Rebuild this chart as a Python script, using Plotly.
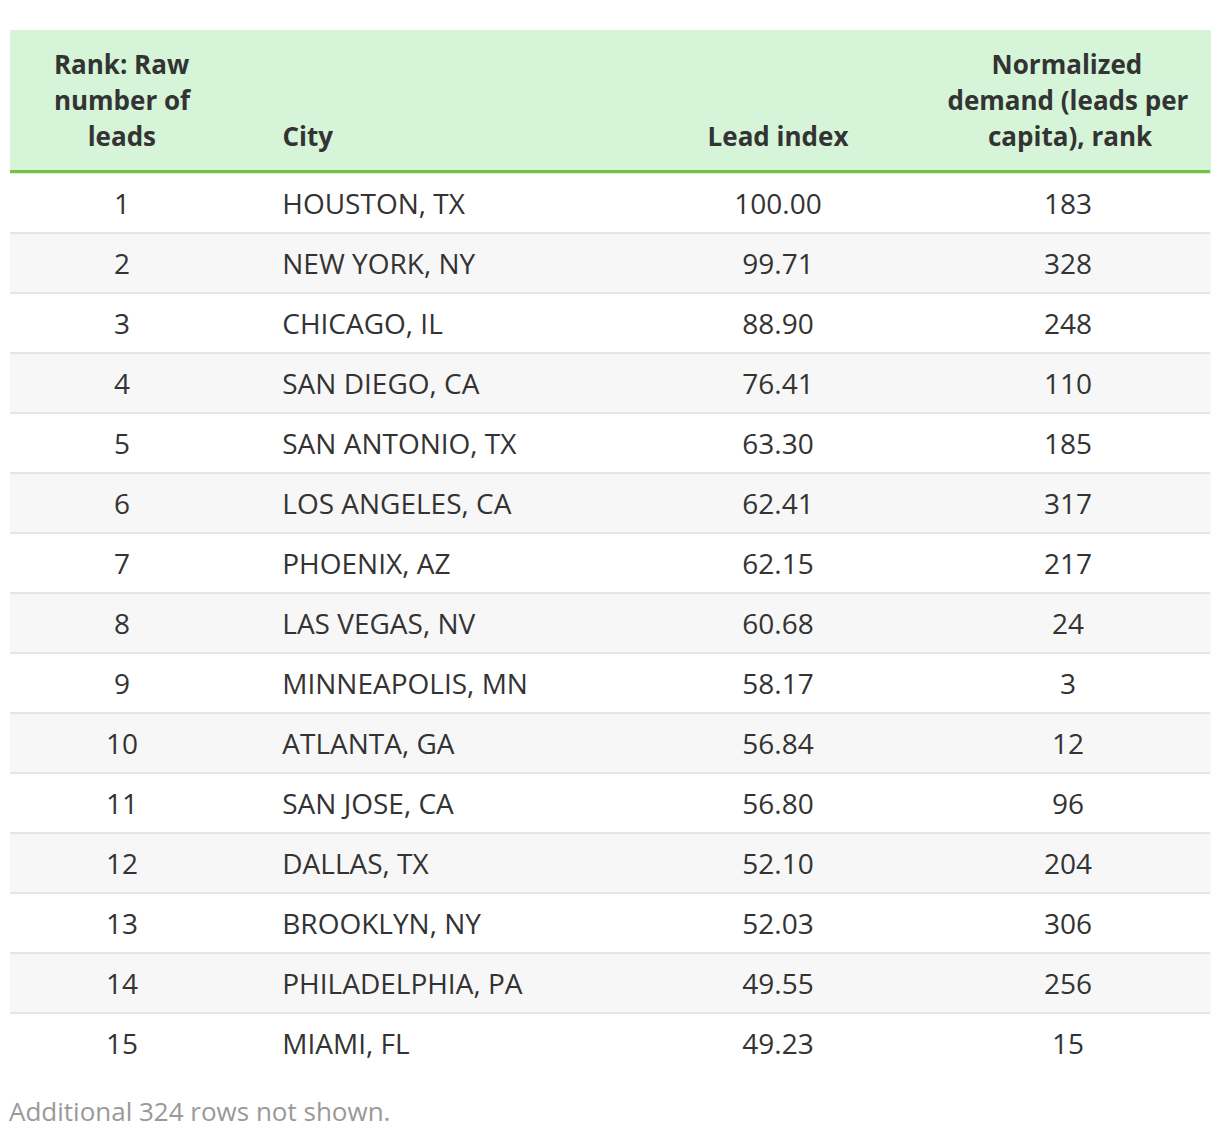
import plotly.graph_objects as go

# --- data ---
ranks = [1, 2, 3, 4, 5, 6, 7, 8, 9, 10, 11, 12, 13, 14, 15]
cities = ["HOUSTON, TX", "NEW YORK, NY", "CHICAGO, IL", "SAN DIEGO, CA", "SAN ANTONIO, TX",
          "LOS ANGELES, CA", "PHOENIX, AZ", "LAS VEGAS, NV", "MINNEAPOLIS, MN", "ATLANTA, GA",
          "SAN JOSE, CA", "DALLAS, TX", "BROOKLYN, NY", "PHILADELPHIA, PA", "MIAMI, FL"]
lead_index = [100.00, 99.71, 88.90, 76.41, 63.30, 62.41, 62.15, 60.68, 58.17, 56.84,
              56.80, 52.10, 52.03, 49.55, 49.23]
per_capita_rank = [183, 328, 248, 110, 185, 317, 217, 24, 3, 12, 96, 204, 306, 256, 15]
footnote = "Additional 324 rows not shown."

# --- style / geometry ---
W, H = 1212, 1130
TOP, LEFT, RIGHT = 22, 2, 10
HEAD_H, ROW_H = 143, 60
TABLE_H = HEAD_H + ROW_H * len(ranks)
BOTTOM = H - TOP - TABLE_H
TEXT = "#333333"
FONT = "Open Sans, sans-serif"
NB = "\u00a0"

row_fill = ["#ffffff" if i % 2 == 0 else "#f7f7f7" for i in range(len(ranks))]


def sp(size, s):
    return f'<span style="font-size:{size}px">{s}</span>'


# header text: bottom-aligned lines, centred by hand with no-break spaces
# (a taller no-break space on the first line pushes the block down)
big = sp(34, NB)
h1 = "<br>".join([big + sp(26, "Rank: Raw") + big, big + sp(26, "number of") + big,
                  big + sp(26, NB * 5 + "leads")])
h2 = "<br>".join([big, sp(26, NB), sp(26, NB * 6 + "City")])
h3 = "<br>".join([big, sp(26, NB), sp(26, "Lead index")])
h4 = "<br>".join([sp(34, NB * 5) + sp(26, "Normalized"), sp(26, "demand (leads per"),
                  sp(26, NB * 6 + "capita), rank")])

# cell text: taller spacer centres the text vertically, trailing <br> stops auto-wrapping
pad = sp(31, NB)
c1 = [pad + sp(28, r) + pad + "<br>" for r in ranks]
c2 = [sp(31, NB * 5) + sp(28, c) + "<br>" for c in cities]
c3 = [pad + sp(28, f"{v:.2f}") + pad + "<br>" for v in lead_index]
c4 = [pad + sp(28, v) + pad + "<br>" for v in per_capita_rank]

fig = go.Figure(go.Table(
    columnwidth=[224, 396, 296, 284],
    header=dict(
        values=[h1, h2, h3, h4], height=HEAD_H,
        align=["center", "left", "center", "center"],
        fill_color="#d5f4d8", line=dict(color="#d5f4d8", width=1),
        font=dict(family=FONT, size=27.7, color=TEXT, weight="bold"),
    ),
    cells=dict(
        values=[c1, c2, c3, c4], height=ROW_H,
        align=["center", "left", "center", "center"],
        fill_color=[row_fill], line=dict(color=[row_fill], width=1),
        font=dict(family=FONT, size=28, color=TEXT),
    ),
))


def py(px):
    return 1 - (px - 30) / TABLE_H


shapes = [dict(type="rect", xref="paper", yref="paper", x0=0, x1=1,
               y0=py(30 + HEAD_H), y1=py(30 + HEAD_H - 3),
               fillcolor="#78c043", line=dict(width=0))]
for k in range(1, len(ranks)):
    y = py(30 + HEAD_H + ROW_H * k)
    shapes.append(dict(type="line", xref="paper", yref="paper", x0=0, x1=1, y0=y, y1=y,
                       line=dict(color="#e5e5e5", width=2)))

fig.update_layout(
    width=W, height=H,
    margin=dict(l=LEFT, r=RIGHT, t=TOP, b=BOTTOM),
    paper_bgcolor="white",
    shapes=shapes,
    annotations=[dict(text=footnote, xref="paper", yref="paper", x=-3 / 1200, y=py(1111),
                      xanchor="left", yanchor="middle", showarrow=False,
                      font=dict(family=FONT, size=26, color="#999999"))],
)

fig.write_html("out.html")
